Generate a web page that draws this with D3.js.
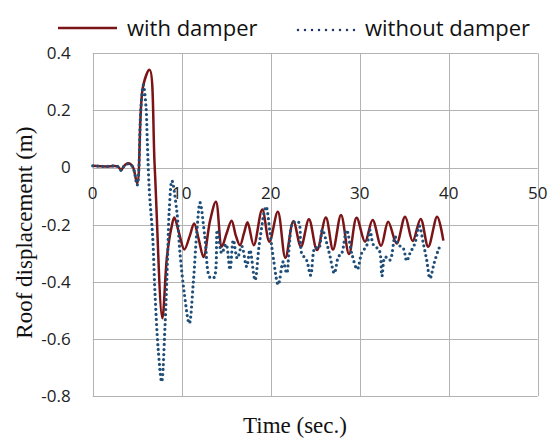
<!DOCTYPE html>
<html><head><meta charset="utf-8">
<script src="https://cdn.jsdelivr.net/npm/d3@7"></script>
<style>body{margin:0;background:#fff}svg{display:block}</style>
</head><body>
<svg id="c" width="550" height="438"></svg>
<script>
const xTicks = [0, 10, 20, 30, 40, 50];
const yTicks = [0.4, 0.2, 0, -0.2, -0.4, -0.6, -0.8];
const yTickLabels = ["0.4", "0.2", "0", "-0.2", "-0.4", "-0.6", "-0.8"];
const seriesNames = ["with damper", "without damper"];

// with damper (time, displacement)
const withT = [0, 1.5, 2.8, 3.2, 3.5, 4.0, 4.5, 5.0, 5.65, 6.4, 6.97, 7.82, 8.35, 8.85, 9.17, 9.7, 10.3, 10.9, 11.4, 11.9, 12.45, 13.2, 13.85, 14.5, 15.05, 15.6, 16.1, 16.55, 17.0, 17.4, 18.1, 19.05, 19.85, 20.8, 21.65, 22.55, 23.4, 24.3, 25.2, 26.2, 27.0, 27.9, 28.8, 29.65, 30.6, 31.45, 32.4, 33.2, 34.15, 35.1, 35.95, 36.85, 37.7, 38.7, 39.4];
const withV = [0.006, 0.004, 0.004, -0.009, 0.005, 0.015, 0.003, -0.055, 0.283, 0.342, 0.0, -0.528, -0.31, -0.21, -0.175, -0.23, -0.287, -0.24, -0.196, -0.25, -0.313, -0.184, -0.12, -0.277, -0.23, -0.186, -0.24, -0.272, -0.23, -0.192, -0.272, -0.147, -0.26, -0.155, -0.316, -0.188, -0.277, -0.181, -0.289, -0.175, -0.287, -0.166, -0.303, -0.176, -0.26, -0.184, -0.274, -0.19, -0.266, -0.172, -0.257, -0.18, -0.277, -0.172, -0.256];

// without damper (time, displacement)
const withoutT = [0, 1.5, 2.8, 3.2, 3.5, 4.0, 4.5, 5.0, 5.4, 5.69, 5.99, 6.13, 6.36, 6.74, 7.0, 7.37, 7.75, 8.12, 8.43, 8.6, 8.9, 9.44, 9.81, 10.29, 10.85, 11.3, 11.69, 12.06, 12.6, 13.18, 13.63, 14.0, 14.5, 14.98, 15.43, 15.8, 16.25, 16.74, 17.3, 17.67, 18.24, 18.72, 19.47, 19.93, 20.3, 20.85, 21.4, 21.8, 22.1, 22.47, 23.1, 23.48, 24.04, 24.49, 24.98, 25.4, 25.8, 26.3, 26.66, 27.15, 27.6, 27.98, 28.54, 29.1, 29.73, 30.22, 30.8, 31.16, 31.53, 32.2, 32.5, 32.85, 33.4, 33.97, 34.34, 34.9, 35.28, 35.65, 36.2, 36.7, 37.15, 37.53, 37.9, 38.35, 38.83, 39.02];
const withoutV = [0.006, 0.004, 0.004, -0.01, 0.004, 0.013, 0.002, -0.061, 0.2, 0.289, 0.213, 0.096, -0.08, -0.243, -0.44, -0.64, -0.75, -0.558, -0.3, -0.149, -0.046, -0.149, -0.3, -0.44, -0.546, -0.405, -0.23, -0.123, -0.242, -0.385, -0.385, -0.219, -0.3, -0.268, -0.357, -0.254, -0.318, -0.275, -0.347, -0.289, -0.394, -0.268, -0.137, -0.23, -0.318, -0.41, -0.33, -0.37, -0.27, -0.195, -0.19, -0.3, -0.325, -0.377, -0.28, -0.283, -0.218, -0.265, -0.31, -0.37, -0.313, -0.3, -0.219, -0.3, -0.356, -0.3, -0.272, -0.219, -0.27, -0.29, -0.38, -0.313, -0.324, -0.242, -0.27, -0.283, -0.327, -0.3, -0.266, -0.205, -0.266, -0.324, -0.388, -0.336, -0.289, -0.275];

const W = 550, H = 438;
const m = {left: 92.7, right: 12.3, top: 53.3, bottom: 42};
const svg = d3.select("#c");
const x = d3.scaleLinear().domain([0, 50]).range([m.left, W - m.right]);
const y = d3.scaleLinear().domain([-0.8, 0.4]).range([H - m.bottom, m.top]);

const grid = "#b3b3b3";
// grid lines
svg.append("g").selectAll("line.h").data(yTicks).join("line")
  .attr("x1", x(0)).attr("x2", x(50))
  .attr("y1", d => Math.round(y(d)) + 0.5).attr("y2", d => Math.round(y(d)) + 0.5)
  .attr("stroke", grid).attr("stroke-width", 1);
svg.append("g").selectAll("line.v").data(xTicks).join("line")
  .attr("y1", y(0.4)).attr("y2", y(-0.8))
  .attr("x1", d => Math.round(x(d)) + 0.5).attr("x2", d => Math.round(x(d)) + 0.5)
  .attr("stroke", grid).attr("stroke-width", 1);

// y tick labels
svg.append("g").selectAll("text").data(yTicks).join("text")
  .attr("x", m.left - 22).attr("y", d => y(d))
  .attr("dy", "0.35em").attr("text-anchor", "end")
  .attr("font-family", "'Open Sans', sans-serif").attr("font-size", 17).attr("fill", "#222")
  .text((d, i) => yTickLabels[i]);
// x tick labels (below the zero line)
svg.append("g").selectAll("text").data(xTicks).join("text")
  .attr("x", d => x(d)).attr("y", y(0) + 26)
  .attr("dy", "0.35em").attr("text-anchor", "middle")
  .attr("font-family", "'Open Sans', sans-serif").attr("font-size", 17).attr("fill", "#222")
  .text(d => d);

const line = (tArr, vArr) => d3.line()
  .x((d, i) => x(tArr[i])).y((d, i) => y(vArr[i]))
  .curve(d3.curveCatmullRom.alpha(0.5))(tArr);

const red = "#7b1416", blue = "#1f4e79";
svg.append("path").attr("d", line(withT, withV))
  .attr("fill", "none").attr("stroke", red).attr("stroke-width", 2.5);
svg.append("path").attr("d", line(withoutT, withoutV))
  .attr("fill", "none").attr("stroke", blue).attr("stroke-width", 3.2)
  .attr("stroke-linecap", "round").attr("stroke-dasharray", "0 5");

// legend
const lg = svg.append("g");
lg.append("line").attr("x1", 58).attr("x2", 117).attr("y1", 28).attr("y2", 28)
  .attr("stroke", red).attr("stroke-width", 2.5);
lg.append("text").attr("x", 127).attr("y", 28).attr("dy", "0.35em")
  .attr("font-family", "'Open Sans', sans-serif").attr("font-size", 22).attr("fill", "#111")
  .text(seriesNames[0]);
lg.append("line").attr("x1", 298).attr("x2", 355).attr("y1", 30).attr("y2", 30)
  .attr("stroke", "#1f3864").attr("stroke-width", 2.5).attr("stroke-linecap", "round")
  .attr("stroke-dasharray", "0 7");
lg.append("text").attr("x", 365).attr("y", 28).attr("dy", "0.35em")
  .attr("font-family", "'Open Sans', sans-serif").attr("font-size", 22).attr("fill", "#111")
  .text(seriesNames[1]);

// axis titles
svg.append("text").attr("transform", `translate(24,${(m.top + H - m.bottom) / 2 + 8}) rotate(-90)`)
  .attr("text-anchor", "middle").attr("dy", "0.35em")
  .attr("font-family", "'Liberation Serif', 'Times New Roman', serif").attr("font-size", 23).attr("fill", "#111")
  .text("Roof displacement (m)");
svg.append("text").attr("x", 295).attr("y", 425).attr("dy", "0.35em")
  .attr("text-anchor", "middle")
  .attr("font-family", "'Liberation Serif', 'Times New Roman', serif").attr("font-size", 23).attr("fill", "#111")
  .text("Time (sec.)");
</script>
</body></html>
